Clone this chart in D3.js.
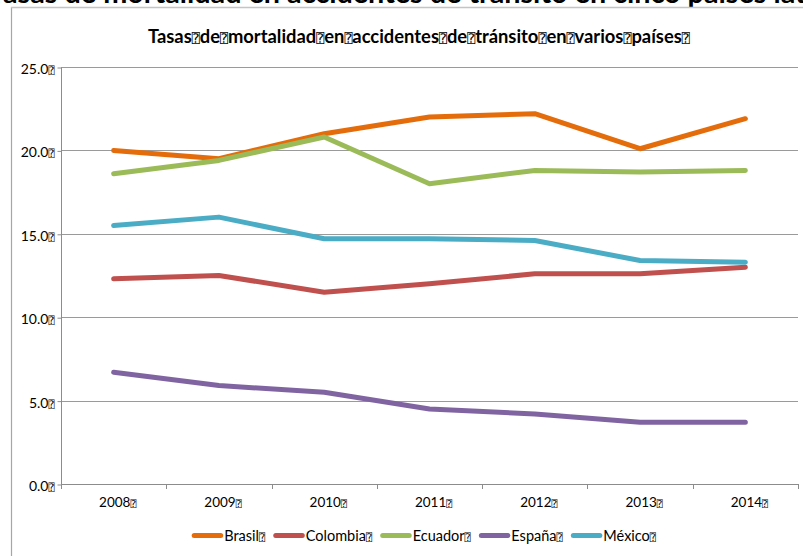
<!DOCTYPE html>
<html>
<head>
<meta charset="utf-8">
<script src="https://cdn.jsdelivr.net/npm/d3@7"></script>
<style>
  html, body { margin: 0; padding: 0; background: #fff; }
  svg { display: block; }
  text { font-family: Lato, "Open Sans", sans-serif; fill: #000; }
</style>
</head>
<body>
<svg id="chart" width="803" height="556"></svg>
<script>
// Road-traffic mortality rates (deaths per 100 000 inhabitants)
const years    = ["2008", "2009", "2010", "2011", "2012", "2013", "2014"];
const brasil   = [20.0, 19.5, 21.0, 22.0, 22.2, 20.1, 21.9];
const colombia = [12.3, 12.5, 11.5, 12.0, 12.6, 12.6, 13.0];
const ecuador  = [18.6, 19.4, 20.8, 18.0, 18.8, 18.7, 18.8];
const espana   = [6.7, 5.9, 5.5, 4.5, 4.2, 3.7, 3.7];
const mexico   = [15.5, 16.0, 14.7, 14.7, 14.6, 13.4, 13.3];
const seriesNames  = ["Brasil", "Colombia", "Ecuador", "España", "México"];
const seriesValues = [brasil, colombia, ecuador, espana, mexico];
const seriesColors = ["#E46C0A", "#C0504D", "#9BBB59", "#8064A2", "#4BACC6"];
const yTicks = [0, 5, 10, 15, 20, 25];
const pageTitle  = "Tasas de mortalidad en accidentes de tránsito en cinco países latinoamericanos";
const chartTitle = "Tasas de mortalidad en accidentes de tránsito en varios países";
const BOX = "\u2370"; // placeholder glyph the source file shows in place of spaces

const svg = d3.select("#chart");

// helper: append text where every space/trailing marker becomes the box glyph
function boxedText(sel, str, trailing) {
  const parts = str.split(" ");
  parts.forEach((p, i) => {
    sel.append("tspan").text(p);
    if (i < parts.length - 1 || trailing) {
      sel.append("tspan")
        .attr("font-family", "'DejaVu Sans Mono', 'DejaVu Sans', monospace")
        .attr("font-weight", "normal")
        .attr("font-size", "0.72em")
        .text(BOX);
    }
  });
  return sel;
}

// page heading, partly above the visible area
const head = svg.append("text")
  .attr("font-family", "'Liberation Sans', Arial, sans-serif")
  .attr("font-weight", "bold")
  .attr("font-size", 22)
  .attr("y", 3)
  .text(pageTitle);
{
  const node = head.node();
  const pIdx = pageTitle.indexOf("países");
  const span = node.getSubStringLength(1, pIdx - 1);
  const fs = 22 * 685 / span;
  head.attr("font-size", fs);
  const startA = node.getStartPositionOfChar(1).x;
  head.attr("x", 3 - startA);
}

// chart frame
svg.append("line").attr("x1", 11.5).attr("x2", 11.5).attr("y1", 7).attr("y2", 556)
  .attr("stroke", "#a6a6a6").attr("stroke-width", 1.2);
svg.append("line").attr("x1", 11).attr("x2", 803).attr("y1", 7.5).attr("y2", 7.5)
  .attr("stroke", "#c4c4c4").attr("stroke-width", 1.5);

// chart title
const t = svg.append("text")
  .attr("x", 148).attr("y", 43)
  .attr("font-weight", "bold")
  .attr("font-size", 15);
boxedText(t, chartTitle, true);
{
  const w = t.node().getComputedTextLength();
  t.attr("font-size", 15 * 542 / w);
}

// scales
const x = d3.scaleBand().domain(years).range([61, 798]);
const y = d3.scaleLinear().domain([0, 25]).range([484, 67]);
const cx = d => x(d) + x.bandwidth() / 2;

// gridlines
svg.append("g").selectAll("line").data(yTicks.filter(v => v > 0)).join("line")
  .attr("x1", 61).attr("x2", 798)
  .attr("y1", d => Math.round(y(d)) + 0.5).attr("y2", d => Math.round(y(d)) + 0.5)
  .attr("stroke", "#9a9a9a").attr("stroke-width", 1);

// y axis
const yAxis = svg.append("g").attr("transform", "translate(61.5,0.5)")
  .call(d3.axisLeft(y).tickValues(yTicks).tickSize(4).tickFormat(() => ""));
yAxis.select(".domain").attr("stroke", "#8c8c8c").attr("d", `M0,${Math.round(y(25))}V${Math.round(y(0))}`);
yAxis.selectAll(".tick line").attr("stroke", "#8c8c8c");
yAxis.selectAll(".tick").each(function (d) {
  const g = d3.select(this);
  const tx = g.append("text").attr("x", -7).attr("y", 6).attr("text-anchor", "end")
    .attr("font-size", 14).attr("fill", "#000");
  boxedText(tx, d3.format(".1f")(d), true);
});

// x axis
const xAxis = svg.append("g").attr("transform", `translate(0,${Math.round(y(0)) + 0.5})`)
  .call(d3.axisBottom(x).tickSize(0).tickFormat(() => ""));
xAxis.select(".domain").attr("stroke", "#8c8c8c").attr("d", "M61,0H798");
svg.append("g").selectAll("line").data(years.concat(["end"])).join("line")
  .attr("x1", (d, i) => Math.round(61 + i * x.bandwidth()) + 0.5)
  .attr("x2", (d, i) => Math.round(61 + i * x.bandwidth()) + 0.5)
  .attr("y1", Math.round(y(0))).attr("y2", Math.round(y(0)) + 5)
  .attr("stroke", "#8c8c8c");
years.forEach(yr => {
  const tx = svg.append("text").attr("x", cx(yr) + 4).attr("y", 507)
    .attr("text-anchor", "middle").attr("font-size", 13.5);
  boxedText(tx, yr, true);
});

// series lines
const line = d3.line().x((d, i) => cx(years[i])).y(d => y(d));
svg.append("g").selectAll("path").data(seriesValues).join("path")
  .attr("d", d => line(d))
  .attr("fill", "none")
  .attr("stroke", (d, i) => seriesColors[i])
  .attr("stroke-width", 5)
  .attr("stroke-linejoin", "round")
  .attr("stroke-linecap", "round");

// legend
const leg = svg.append("g");
let lx = 191.7;
seriesNames.forEach((name, i) => {
  leg.append("line").attr("x1", lx + 2.5).attr("x2", lx + 29).attr("y1", 535.5).attr("y2", 535.5)
    .attr("stroke", seriesColors[i]).attr("stroke-width", 5).attr("stroke-linecap", "round");
  const tx = leg.append("text").attr("x", lx + 32.5).attr("y", 540.5).attr("font-size", 14.5);
  boxedText(tx, name, true);
  lx += 32.5 + tx.node().getComputedTextLength() + 8;
});
</script>
</body>
</html>
